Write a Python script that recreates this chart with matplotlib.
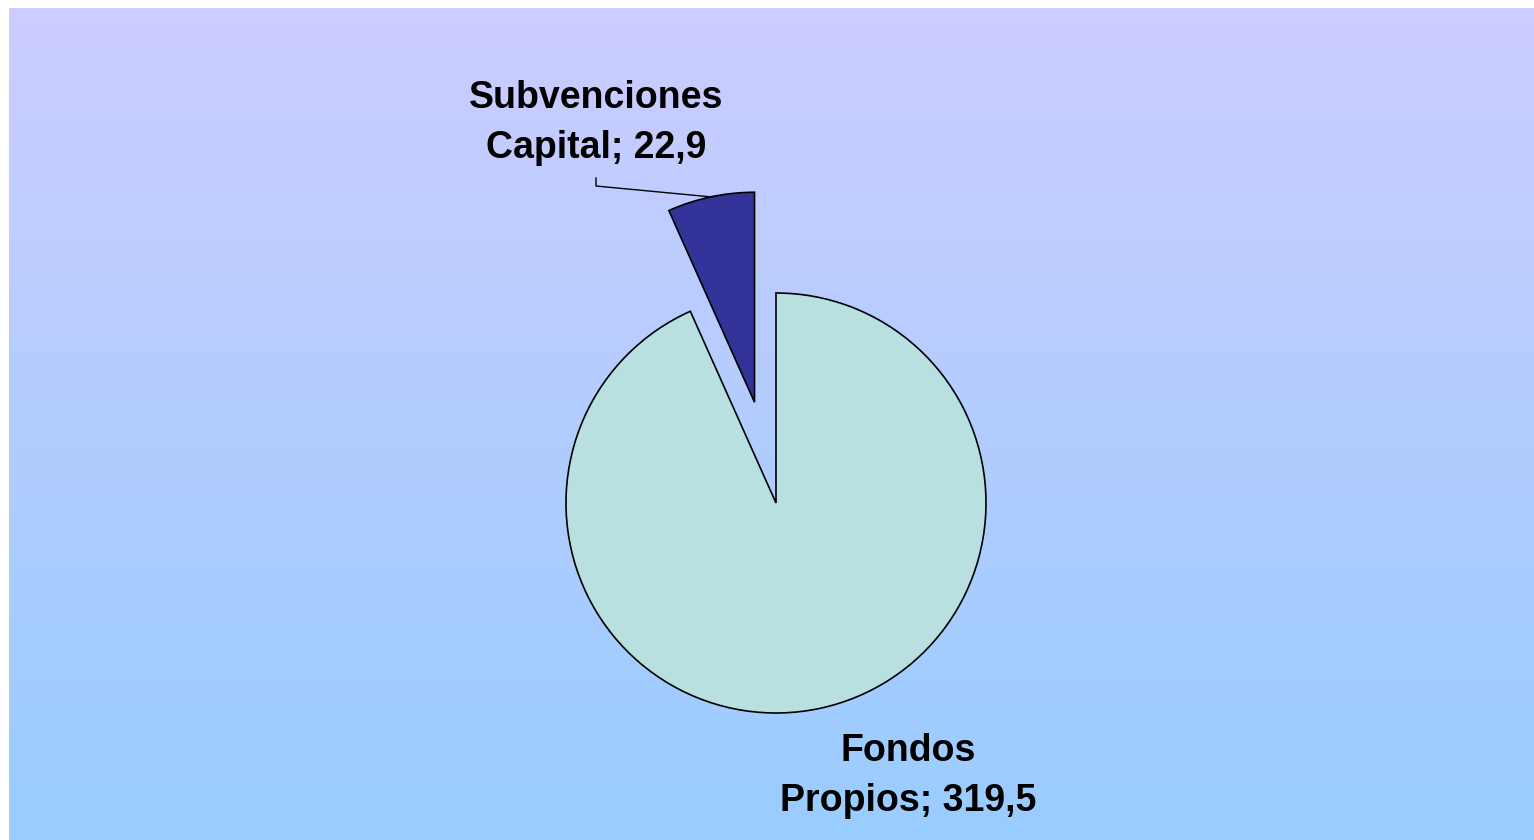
"""Pie chart: Fondos Propios vs Subvenciones Capital."""

import matplotlib.pyplot as plt
import numpy as np
from matplotlib.colors import LinearSegmentedColormap


LABELS = ["Fondos\nPropios; 319,5", "Subvenciones\nCapital; 22,9"]
VALUES = [319.5, 22.9]
COLORS = ["#B8E0E1", "#333399"]

W, H = 1534, 840


def main():
    fig = plt.figure(figsize=(W / 100, H / 100), dpi=100)
    fig.patch.set_facecolor("white")

    # Gradient background, leaving the thin white strip on the left and top.
    bg = fig.add_axes([9 / W, 0, 1 - 9 / W, 1 - 8 / H])
    cmap = LinearSegmentedColormap.from_list("bg", ["#99CCFF", "#CCCCFF"])
    bg.imshow(np.linspace(0, 1, 256).reshape(-1, 1), aspect="auto", cmap=cmap,
              origin="lower", extent=[0, 1, 0, 1])
    bg.set_axis_off()

    # Pie axes in pixel units (y up).
    ax = fig.add_axes([0, 0, 1, 1])
    ax.patch.set_alpha(0)

    radius = 210
    ax.pie(
        VALUES,
        colors=COLORS,
        startangle=90,
        counterclock=False,
        center=(776, H - 503),
        radius=radius,
        explode=[0, 103],
        wedgeprops={"edgecolor": "black", "linewidth": 1.2},
        frame=True,
    )
    ax.set_xlim(0, W)
    ax.set_ylim(0, H)
    ax.set_axis_off()

    font = dict(family="Liberation Sans", fontweight="bold", fontsize=27,
                ha="center", va="center", linespacing=1.5)
    ax.text(596, H - 123, LABELS[1], **font)
    ax.text(908, H - 776, LABELS[0], **font)

    # Leader line for the small slice.
    ax.plot([596, 596, 712], [H - 178, H - 186, H - 197], color="black", lw=1)

    fig.savefig("out.png", dpi=100)
    plt.close(fig)


if __name__ == "__main__":
    main()
